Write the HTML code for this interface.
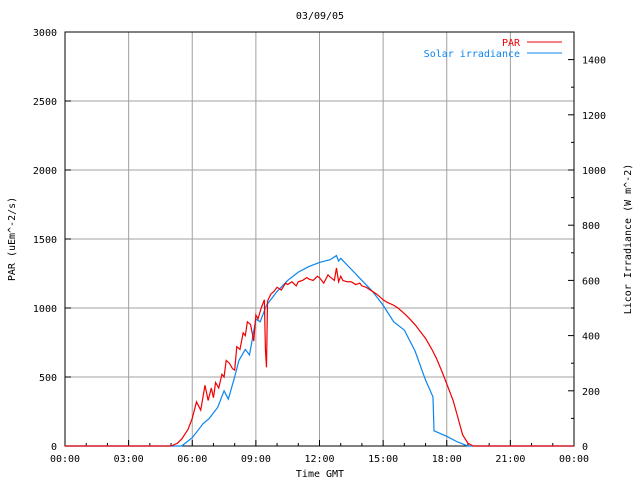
<!DOCTYPE html>
<html><head><meta charset="utf-8"><style>
body{margin:0;background:#fff}
svg text{font-family:"DejaVu Sans Mono","Liberation Mono",monospace;font-size:10px}
</style></head><body>
<svg id="c" width="640" height="480"></svg>
<script>
const xTickLabels=["00:00","03:00","06:00","09:00","12:00","15:00","18:00","21:00","00:00"];
const leftTicks=[0,500,1000,1500,2000,2500,3000];
const rightTicks=[0,200,400,600,800,1000,1200,1400];
const parHours=[0,5,5.3,5.5,5.8,6,6.2,6.4,6.5,6.6,6.75,6.9,7,7.1,7.25,7.4,7.5,7.6,7.75,7.9,8,8.1,8.25,8.4,8.5,8.6,8.75,8.9,9,9.1,9.25,9.4,9.45,9.5,9.55,9.7,9.85,10,10.2,10.4,10.5,10.7,10.9,11,11.2,11.4,11.5,11.7,11.9,12,12.2,12.4,12.5,12.7,12.8,12.9,13,13.1,13.3,13.5,13.7,13.9,14,14.2,14.5,14.7,15,15.2,15.5,15.7,16,16.2,16.5,16.8,17,17.3,17.5,17.8,18,18.3,18.5,18.75,19,19.25,24];
const parValues=[0,0,20,50,120,200,320,260,350,440,330,420,350,460,420,520,500,620,600,560,550,720,700,820,800,900,880,760,950,920,1000,1060,700,570,1050,1100,1120,1150,1130,1180,1170,1190,1160,1190,1200,1220,1210,1200,1230,1220,1180,1240,1225,1200,1290,1190,1230,1200,1190,1190,1170,1180,1160,1150,1120,1100,1060,1040,1020,1000,960,930,880,820,780,700,640,530,450,330,220,80,20,0,0];
const solHours=[0,5.5,6,6.3,6.5,6.8,7,7.2,7.5,7.7,8,8.2,8.5,8.7,9,9.2,9.5,10,10.5,11,11.5,12,12.5,12.8,12.9,13,13.5,14,14.5,15,15.5,16,16.5,17,17.35,17.4,18,18.5,19,24];
const solValues=[0,0,30,60,80,100,120,140,200,170,250,310,350,330,460,450,510,560,600,630,650,665,675,690,670,680,640,600,560,510,450,420,345,239,178,55,35,15,0,0];
const svg=document.getElementById('c');const NS="http://www.w3.org/2000/svg";
const X0=65,X1=574,Y0=446,Y1=32;
const xs=h=>X0+h*(X1-X0)/24, yl=v=>Y0-v*(Y0-Y1)/3000, yr=v=>Y0-v*(Y0-Y1)/1500;
function el(t,a,txt){const e=document.createElementNS(NS,t);for(const k in a)e.setAttribute(k,a[k]);if(txt!==undefined)e.textContent=txt;svg.appendChild(e);return e;}
for(let i=1;i<8;i++){const g=el('line',{x1:xs(i*3),x2:xs(i*3),y1:Y1,y2:Y0,stroke:'#a0a0a0'});

}
for(let i=1;i<6;i++){const g=el('line',{x1:X0,x2:X1,y1:yl(leftTicks[i]),y2:yl(leftTicks[i]),stroke:'#a0a0a0'});

}
const fr=el('rect',{x:X0,y:Y1,width:X1-X0,height:Y0-Y1,fill:'none',stroke:'#000'});


for(let h=0;h<=24;h++){el('line',{x1:xs(h),x2:xs(h),y1:Y0,y2:Y0-(h%3?3:6),stroke:'#000'});}
xTickLabels.forEach((l,i)=>{const t=el('text',{x:xs(i*3),y:Y0+16,'text-anchor':'middle'},l);

});
leftTicks.forEach(v=>{el('line',{x1:X0,x2:X0+6,y1:yl(v),y2:yl(v),stroke:'#000'});
const t=el('text',{x:X0-8,y:yl(v)+4,'text-anchor':'end'},v);

});
rightTicks.forEach(v=>{el('line',{x1:X1-6,x2:X1,y1:yr(v),y2:yr(v),stroke:'#000'});
const t=el('text',{x:X1+8,y:yr(v)+4,'text-anchor':'start'},v);

});
for(let v=100;v<1500;v+=200){el('line',{x1:X1-3,x2:X1,y1:yr(v),y2:yr(v),stroke:'#000'});}
const ti=el('text',{x:320,y:19,'text-anchor':'middle'},'03/09/05');


const xt=el('text',{x:320,y:477,'text-anchor':'middle'},'Time GMT');


const ylt=el('text',{x:15,y:239,'text-anchor':'middle',transform:'rotate(-90 15 239)'},'PAR (uEm^-2/s)');


const yrt=el('text',{x:631,y:239,'text-anchor':'middle',transform:'rotate(-90 631 239)'},'Licor Irradiance (W m^-2)');


const sp=el('polyline',{points:solHours.map((h,i)=>xs(h)+','+yr(solValues[i])).join(' '),fill:'none',stroke:'#0a84f0','stroke-width':1.2});


const pp=el('polyline',{points:parHours.map((h,i)=>xs(h)+','+yl(parValues[i])).join(' '),fill:'none',stroke:'#f00000','stroke-width':1.2});


const l1=el('text',{x:520,y:46,'text-anchor':'end',fill:'#f00000'},'PAR');


el('line',{x1:527,x2:562,y1:42,y2:42,stroke:'#f00000'});
const l2=el('text',{x:520,y:57,'text-anchor':'end',fill:'#0a84f0'},'Solar irradiance');


el('line',{x1:527,x2:562,y1:53,y2:53,stroke:'#0a84f0'});
</script>
</body></html>
